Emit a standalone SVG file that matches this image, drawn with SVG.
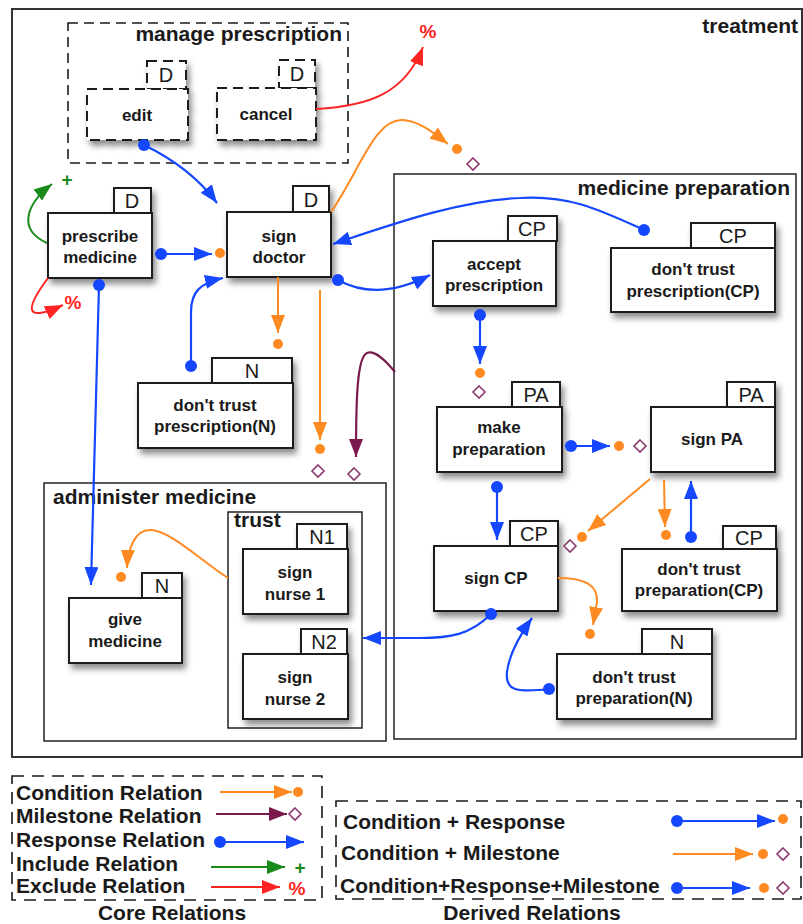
<svg xmlns="http://www.w3.org/2000/svg" width="803" height="924" viewBox="0 0 803 924">
<style>
text{font-family:"Liberation Sans",Arial,sans-serif}
.title{font-size:21px;font-weight:bold;fill:#1a1a1a}
.lbl{font-size:17px;font-weight:bold;fill:#1a1a1a;text-anchor:middle}
.tab{font-size:20px;fill:#1a1a1a;text-anchor:middle}
.box{fill:#fff;stroke:#1a1a1a;stroke-width:2}
.boxd{fill:#fff;stroke:#1a1a1a;stroke-width:2;stroke-dasharray:10 6}
.cont{fill:none;stroke:#222;stroke-width:1.5}
.o{fill:none;stroke:#ff8a22;stroke-width:2}
.b{fill:none;stroke:#1447ff;stroke-width:2.2}
.p{fill:none;stroke:#7a1a4c;stroke-width:2.2}
.g{fill:none;stroke:#1a8a1a;stroke-width:2}
.r{fill:none;stroke:#ff2424;stroke-width:2}
.od{fill:#ff8a22}
.bd{fill:#1447ff}
.dia{fill:#fff;stroke:#8e3a6e;stroke-width:1.6}
.leg{font-size:21px;font-weight:bold;fill:#1a1a1a}
.sym{font-size:19px;font-weight:bold;text-anchor:middle}
</style>
<defs>
<filter id="sh" x="-20%" y="-20%" width="150%" height="160%">
<feDropShadow dx="3" dy="5" stdDeviation="3" flood-color="#000" flood-opacity="0.45"/>
</filter>
<marker id="aO" markerUnits="userSpaceOnUse" viewBox="0 0 18 14" refX="18" refY="7" markerWidth="18" markerHeight="14" orient="auto"><path d="M0,0 L18,7 L0,14 z" fill="#ff8a22"/></marker>
<marker id="aB" markerUnits="userSpaceOnUse" viewBox="0 0 18 14" refX="18" refY="7" markerWidth="18" markerHeight="14" orient="auto"><path d="M0,0 L18,7 L0,14 z" fill="#1447ff"/></marker>
<marker id="aP" markerUnits="userSpaceOnUse" viewBox="0 0 18 14" refX="18" refY="7" markerWidth="18" markerHeight="14" orient="auto"><path d="M0,0 L18,7 L0,14 z" fill="#7a1a4c"/></marker>
<marker id="aG" markerUnits="userSpaceOnUse" viewBox="0 0 18 14" refX="18" refY="7" markerWidth="18" markerHeight="14" orient="auto"><path d="M0,0 L18,7 L0,14 z" fill="#1a8a1a"/></marker>
<marker id="aR" markerUnits="userSpaceOnUse" viewBox="0 0 18 14" refX="18" refY="7" markerWidth="18" markerHeight="14" orient="auto"><path d="M0,0 L18,7 L0,14 z" fill="#ff2424"/></marker>
<path id="dm" d="M0,-6 L6,0 L0,6 L-6,0 z"/>
</defs>
<rect width="803" height="924" fill="#fff"/>

<!-- containers -->
<g id="treatment">
<rect x="12" y="9" width="790" height="748" fill="none" stroke="#333" stroke-width="2"/>
<text class="title" x="798" y="33" text-anchor="end">treatment</text>
</g>
<g id="manage-prescription">
<rect x="68" y="23" width="280" height="140" fill="none" stroke="#1a1a1a" stroke-width="1.6" stroke-dasharray="10 6"/>
<text class="title" x="342" y="41" text-anchor="end">manage prescription</text>
</g>
<g id="medicine-preparation">
<rect class="cont" x="394" y="174" width="402" height="565"/>
<text class="title" x="790" y="195" text-anchor="end">medicine preparation</text>
</g>
<g id="administer-medicine">
<rect class="cont" x="44" y="483" width="342" height="258"/>
<text class="title" x="53" y="504">administer medicine</text>
</g>
<g id="trust">
<rect class="cont" x="228" y="512" width="134" height="216"/>
<text class="title" x="234" y="527">trust</text>
</g>

<!-- nodes -->
<g id="edit">
<g filter="url(#sh)"><rect class="boxd" x="147" y="61" width="39" height="28"/><rect class="boxd" x="87" y="89" width="101" height="51"/></g>
<text class="tab" x="166" y="82">D</text>
<text class="lbl" x="137" y="121">edit</text>
</g>
<g id="cancel">
<g filter="url(#sh)"><rect class="boxd" x="279" y="60" width="36" height="28"/><rect class="boxd" x="217" y="88" width="99" height="52"/></g>
<text class="tab" x="297" y="81">D</text>
<text class="lbl" x="266" y="120">cancel</text>
</g>
<g id="prescribe-medicine">
<g filter="url(#sh)"><rect class="box" x="114" y="188" width="37" height="25"/><rect class="box" x="48" y="213" width="104" height="65"/></g>
<text class="tab" x="132" y="208">D</text>
<text class="lbl" x="100" y="242">prescribe</text>
<text class="lbl" x="100" y="263">medicine</text>
</g>
<g id="sign-doctor">
<g filter="url(#sh)"><rect class="box" x="293" y="186" width="36" height="26"/><rect class="box" x="227" y="212" width="104" height="65"/></g>
<text class="tab" x="311" y="207">D</text>
<text class="lbl" x="279" y="242">sign</text>
<text class="lbl" x="279" y="263">doctor</text>
</g>
<g id="dont-trust-prescription-n">
<g filter="url(#sh)"><rect class="box" x="212" y="358" width="80" height="25"/><rect class="box" x="138" y="383" width="155" height="65"/></g>
<text class="tab" x="252" y="378">N</text>
<text class="lbl" x="215" y="411">don't trust</text>
<text class="lbl" x="215" y="432">prescription(N)</text>
</g>
<g id="accept-prescription">
<g filter="url(#sh)"><rect class="box" x="508" y="216" width="49" height="25"/><rect class="box" x="433" y="241" width="123" height="65"/></g>
<text class="tab" x="532" y="236">CP</text>
<text class="lbl" x="494" y="270">accept</text>
<text class="lbl" x="494" y="291">prescription</text>
</g>
<g id="dont-trust-prescription-cp">
<g filter="url(#sh)"><rect class="box" x="691" y="223" width="84" height="25"/><rect class="box" x="611" y="248" width="164" height="64"/></g>
<text class="tab" x="733" y="243">CP</text>
<text class="lbl" x="693" y="275">don't trust</text>
<text class="lbl" x="693" y="297">prescription(CP)</text>
</g>
<g id="make-preparation">
<g filter="url(#sh)"><rect class="box" x="512" y="382" width="48" height="25"/><rect class="box" x="437" y="407" width="125" height="65"/></g>
<text class="tab" x="536" y="402">PA</text>
<text class="lbl" x="499" y="433">make</text>
<text class="lbl" x="499" y="455">preparation</text>
</g>
<g id="sign-pa">
<g filter="url(#sh)"><rect class="box" x="727" y="382" width="48" height="25"/><rect class="box" x="651" y="407" width="124" height="65"/></g>
<text class="tab" x="751" y="402">PA</text>
<text class="lbl" x="712" y="445">sign PA</text>
</g>
<g id="sign-cp">
<g filter="url(#sh)"><rect class="box" x="510" y="521" width="48" height="25"/><rect class="box" x="434" y="546" width="124" height="65"/></g>
<text class="tab" x="534" y="541">CP</text>
<text class="lbl" x="496" y="584">sign CP</text>
</g>
<g id="dont-trust-preparation-cp">
<g filter="url(#sh)"><rect class="box" x="723" y="526" width="53" height="23"/><rect class="box" x="622" y="549" width="155" height="62"/></g>
<text class="tab" x="749" y="545">CP</text>
<text class="lbl" x="699" y="575">don't trust</text>
<text class="lbl" x="699" y="596">preparation(CP)</text>
</g>
<g id="dont-trust-preparation-n">
<g filter="url(#sh)"><rect class="box" x="642" y="629" width="70" height="25"/><rect class="box" x="557" y="654" width="155" height="65"/></g>
<text class="tab" x="677" y="649">N</text>
<text class="lbl" x="634" y="683">don't trust</text>
<text class="lbl" x="634" y="704">preparation(N)</text>
</g>
<g id="sign-nurse-1">
<g filter="url(#sh)"><rect class="box" x="297" y="524" width="50" height="25"/><rect class="box" x="243" y="549" width="105" height="65"/></g>
<text class="tab" x="322" y="544">N1</text>
<text class="lbl" x="295" y="578">sign</text>
<text class="lbl" x="295" y="600">nurse 1</text>
</g>
<g id="sign-nurse-2">
<g filter="url(#sh)"><rect class="box" x="301" y="629" width="46" height="25"/><rect class="box" x="243" y="654" width="105" height="65"/></g>
<text class="tab" x="324" y="649">N2</text>
<text class="lbl" x="295" y="683">sign</text>
<text class="lbl" x="295" y="705">nurse 2</text>
</g>
<g id="give-medicine">
<g filter="url(#sh)"><rect class="box" x="142" y="573" width="40" height="25"/><rect class="box" x="69" y="598" width="113" height="65"/></g>
<text class="tab" x="162" y="593">N</text>
<text class="lbl" x="125" y="625">give</text>
<text class="lbl" x="125" y="647">medicine</text>
</g>

<!-- connectors -->
<g id="connectors">
<circle class="bd" cx="144" cy="145" r="6"/>
<path class="b" d="M144,145 C175,160 200,180 217,203" marker-end="url(#aB)"/>
<path class="r" d="M316,109 C370,106 405,93 423,47" marker-end="url(#aR)"/>
<text class="sym" x="428" y="38" fill="#ff2424">%</text>
<path class="o" d="M331,212 C360,170 375,118 403,120 C420,121 435,134 448,144" marker-end="url(#aO)"/>
<circle class="od" cx="457" cy="149" r="5"/>
<use href="#dm" class="dia" x="473" y="164"/>
<circle class="bd" cx="161" cy="254" r="6"/>
<path class="b" d="M161,254 L212,254" marker-end="url(#aB)"/>
<circle class="od" cx="220" cy="253" r="5"/>
<path class="g" d="M47,243 C18,230 25,205 52,184" marker-end="url(#aG)"/>
<text class="sym" x="67" y="186" fill="#1a8a1a">+</text>
<path class="r" d="M48,278 C28,305 20,325 63,305" marker-end="url(#aR)"/>
<text class="sym" x="73" y="309" fill="#ff2424">%</text>
<circle class="bd" cx="99" cy="285" r="6"/>
<path class="b" d="M99,285 L91,585" marker-end="url(#aB)"/>
<circle class="bd" cx="191" cy="366" r="6"/>
<path class="b" d="M191,366 L191,312 C191,292 200,283 223,278" marker-end="url(#aB)"/>
<path class="o" d="M278,277 L278,333" marker-end="url(#aO)"/>
<circle class="od" cx="278" cy="344" r="5"/>
<path class="o" d="M320,290 L320,440" marker-end="url(#aO)"/>
<circle class="od" cx="320" cy="449" r="5"/>
<use href="#dm" class="dia" x="318" y="471"/>
<path class="p" d="M395,372 C385,360 375,350 367,353 C357,357 356,400 356,457" marker-end="url(#aP)"/>
<use href="#dm" class="dia" x="354" y="474"/>
<circle class="bd" cx="338" cy="280" r="6"/>
<path class="b" d="M338,280 C365,295 395,293 430,275" marker-end="url(#aB)"/>
<circle class="bd" cx="644" cy="230" r="6"/>
<path class="b" d="M644,230 C600,210 570,195 520,198 C460,200 390,225 333,244" marker-end="url(#aB)"/>
<circle class="bd" cx="480" cy="315" r="6"/>
<path class="b" d="M480,315 L480,364" marker-end="url(#aB)"/>
<circle class="od" cx="480" cy="373" r="5"/>
<use href="#dm" class="dia" x="479" y="392"/>
<circle class="bd" cx="571" cy="446" r="6"/>
<path class="b" d="M571,446 L610,446" marker-end="url(#aB)"/>
<circle class="od" cx="619" cy="446" r="5"/>
<use href="#dm" class="dia" x="640" y="446"/>
<circle class="bd" cx="497" cy="487" r="6"/>
<path class="b" d="M497,487 L497,540" marker-end="url(#aB)"/>
<path class="o" d="M650,479 L588,531" marker-end="url(#aO)"/>
<circle class="od" cx="582" cy="537" r="5"/>
<use href="#dm" class="dia" x="570" y="546"/>
<path class="o" d="M664,480 L665,527" marker-end="url(#aO)"/>
<circle class="od" cx="666" cy="535" r="5"/>
<circle class="bd" cx="691" cy="537" r="6"/>
<path class="b" d="M691,537 L691,481" marker-end="url(#aB)"/>
<path class="o" d="M558,578 C585,578 598,585 597,602 L593,625" marker-end="url(#aO)"/>
<circle class="od" cx="590" cy="634" r="5"/>
<circle class="bd" cx="491" cy="614" r="6"/>
<path class="b" d="M491,614 C470,635 450,638 420,638 L363,638" marker-end="url(#aB)"/>
<circle class="bd" cx="549" cy="689" r="6"/>
<path class="b" d="M549,689 C515,693 505,690 507,672 C509,655 520,635 532,618" marker-end="url(#aB)"/>
<path class="o" d="M228,578 C200,560 170,530 150,530 C135,530 128,548 127,568" marker-end="url(#aO)"/>
<circle class="od" cx="121" cy="577" r="5"/>
</g>

<!-- legend -->
<g id="legend-core">
<rect x="12" y="776" width="310" height="124" fill="none" stroke="#1a1a1a" stroke-width="1.6" stroke-dasharray="12 8"/>
<text class="leg" x="16" y="800">Condition Relation</text>
<path class="o" d="M220,792 L292,792" marker-end="url(#aO)"/>
<circle class="od" cx="298" cy="792" r="5"/>
<text class="leg" x="16" y="823">Milestone Relation</text>
<path class="p" d="M216,814 L287,814" marker-end="url(#aP)"/>
<use href="#dm" class="dia" x="295" y="814"/>
<text class="leg" x="16" y="847">Response Relation</text>
<circle class="bd" cx="220" cy="842" r="6"/>
<path class="b" d="M220,842 L304,842" marker-end="url(#aB)"/>
<text class="leg" x="16" y="871">Include Relation</text>
<path class="g" d="M211,867 L285,867" marker-end="url(#aG)"/>
<text class="sym" x="300" y="874" fill="#1a8a1a">+</text>
<text class="leg" x="16" y="893">Exclude Relation</text>
<path class="r" d="M211,887 L280,887" marker-end="url(#aR)"/>
<text class="sym" x="297" y="895" fill="#ff2424">%</text>
<text class="leg" x="172" y="920" text-anchor="middle">Core Relations</text>
</g>
<g id="legend-derived">
<rect x="336" y="801" width="465" height="98" fill="none" stroke="#1a1a1a" stroke-width="1.6" stroke-dasharray="12 8"/>
<text class="leg" x="343" y="829">Condition + Response</text>
<circle class="bd" cx="677" cy="821" r="6"/>
<path class="b" d="M677,821 L775,821" marker-end="url(#aB)"/>
<circle class="od" cx="783" cy="819" r="5"/>
<text class="leg" x="341" y="860">Condition + Milestone</text>
<path class="o" d="M673,854 L753,854" marker-end="url(#aO)"/>
<circle class="od" cx="763" cy="854" r="5"/>
<use href="#dm" class="dia" x="783" y="854"/>
<text class="leg" x="340" y="893">Condition+Response+Milestone</text>
<circle class="bd" cx="677" cy="888" r="6"/>
<path class="b" d="M677,888 L750,888" marker-end="url(#aB)"/>
<circle class="od" cx="764" cy="888" r="5"/>
<use href="#dm" class="dia" x="783" y="888"/>
<text class="leg" x="532" y="920" text-anchor="middle">Derived Relations</text>
</g>
</svg>
